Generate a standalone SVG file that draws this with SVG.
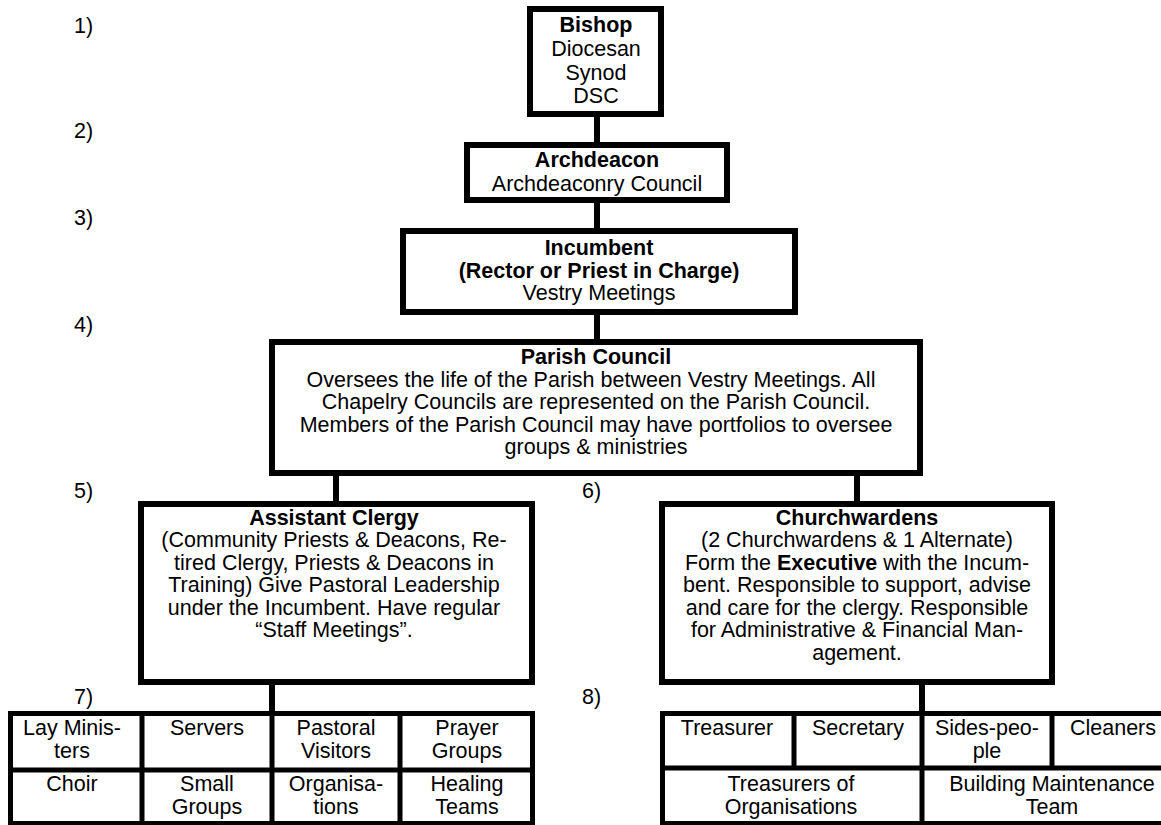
<svg xmlns="http://www.w3.org/2000/svg" width="1161" height="825" viewBox="0 0 1161 825">
<style>
.t{font-family:"Liberation Sans",Arial,sans-serif;font-size:21.5px;fill:#000;text-anchor:middle}
.l{font-family:"Liberation Sans",Arial,sans-serif;font-size:21.5px;fill:#000}
.b{font-weight:bold}
.box{fill:#fff;stroke:#000;stroke-width:6}
.tbl{fill:#fff;stroke:#000;stroke-width:5}
.conn line{stroke:#000;stroke-width:6}
.div line{stroke:#000;stroke-width:5}
</style>
<rect width="1161" height="825" fill="#fff"/>
<g id="connectors" class="conn">
<line x1="597" y1="114" x2="597" y2="145"/>
<line x1="597" y1="200" x2="597" y2="231"/>
<line x1="597" y1="312" x2="597" y2="342"/>
<line x1="336" y1="473" x2="336" y2="504"/>
<line x1="857" y1="473" x2="857" y2="504"/>
<line x1="272" y1="682" x2="272" y2="713"/>
<line x1="922" y1="682" x2="922" y2="713"/>
</g>
<g id="labels">
<text class="l" x="74" y="33">1)</text>
<text class="l" x="74" y="138">2)</text>
<text class="l" x="74" y="225">3)</text>
<text class="l" x="74" y="332">4)</text>
<text class="l" x="74" y="498">5)</text>
<text class="l" x="582" y="498">6)</text>
<text class="l" x="74" y="704">7)</text>
<text class="l" x="582" y="704">8)</text>
</g>
<g id="bishop">
<rect class="box" x="530" y="9" width="131" height="105"/>
<text class="t b" x="596" y="32">Bishop</text>
<text class="t" x="596" y="56">Diocesan</text>
<text class="t" x="596" y="80">Synod</text>
<text class="t" x="596" y="103">DSC</text>
</g>
<g id="archdeacon">
<rect class="box" x="467" y="145" width="260" height="55"/>
<text class="t b" x="597" y="167">Archdeacon</text>
<text class="t" x="597" y="191">Archdeaconry Council</text>
</g>
<g id="incumbent">
<rect class="box" x="403" y="231" width="392" height="81"/>
<text class="t b" x="599" y="255">Incumbent</text>
<text class="t b" x="599" y="278">(Rector or Priest in Charge)</text>
<text class="t" x="599" y="300">Vestry Meetings</text>
</g>
<g id="parish-council">
<rect class="box" x="272" y="342" width="648" height="131"/>
<text class="t b" x="596" y="364">Parish Council</text>
<text class="t" x="591" y="386.5">Oversees the life of the Parish between Vestry Meetings. All</text>
<text class="t" x="596" y="409">Chapelry Councils are represented on the Parish Council.</text>
<text class="t" x="596" y="431.5">Members of the Parish Council may have portfolios to oversee</text>
<text class="t" x="596" y="454">groups &amp; ministries</text>
</g>
<g id="assistant-clergy">
<rect class="box" x="141" y="504" width="391" height="178"/>
<text class="t b" x="334" y="525">Assistant Clergy</text>
<text class="t" x="334" y="547">(Community Priests &amp; Deacons, Re-</text>
<text class="t" x="334" y="569.5">tired Clergy, Priests &amp; Deacons in</text>
<text class="t" x="334" y="592">Training) Give Pastoral Leadership</text>
<text class="t" x="334" y="614.5">under the Incumbent. Have regular</text>
<text class="t" x="334" y="637">“Staff Meetings”.</text>
</g>
<g id="churchwardens">
<rect class="box" x="662" y="504" width="390" height="178"/>
<text class="t b" x="857" y="525">Churchwardens</text>
<text class="t" x="857" y="547">(2 Churchwardens &amp; 1 Alternate)</text>
<text class="t" x="857" y="569.5">Form the <tspan class="b">Executive</tspan> with the Incum-</text>
<text class="t" x="857" y="592">bent. Responsible to support, advise</text>
<text class="t" x="857" y="614.5">and care for the clergy. Responsible</text>
<text class="t" x="857" y="637">for Administrative &amp; Financial Man-</text>
<text class="t" x="857" y="659.5">agement.</text>
</g>
<g id="ministries-table">
<rect class="tbl" x="10.5" y="713.5" width="522" height="110"/>
<g class="div">
<line x1="8" y1="770" x2="535" y2="770"/>
<line x1="142" y1="711" x2="142" y2="825"/>
<line x1="272" y1="711" x2="272" y2="825"/>
<line x1="400" y1="711" x2="400" y2="825"/>
</g>
<text class="t" x="72" y="735">Lay Minis-</text>
<text class="t" x="72" y="758">ters</text>
<text class="t" x="207" y="735">Servers</text>
<text class="t" x="336" y="735">Pastoral</text>
<text class="t" x="336" y="758">Visitors</text>
<text class="t" x="467" y="735">Prayer</text>
<text class="t" x="467" y="758">Groups</text>
<text class="t" x="72" y="791">Choir</text>
<text class="t" x="207" y="791">Small</text>
<text class="t" x="207" y="814">Groups</text>
<text class="t" x="336" y="791">Organisa-</text>
<text class="t" x="336" y="814">tions</text>
<text class="t" x="467" y="791">Healing</text>
<text class="t" x="467" y="814">Teams</text>
</g>
<g id="administration-table">
<rect class="tbl" x="662.5" y="713.5" width="520" height="110"/>
<g class="div">
<line x1="660" y1="768" x2="1185" y2="768"/>
<line x1="794" y1="711" x2="794" y2="768"/>
<line x1="922" y1="711" x2="922" y2="825"/>
<line x1="1052" y1="711" x2="1052" y2="768"/>
</g>
<text class="t" x="727" y="735">Treasurer</text>
<text class="t" x="858" y="735">Secretary</text>
<text class="t" x="987" y="735">Sides-peo-</text>
<text class="t" x="987" y="758">ple</text>
<text class="t" x="1113" y="735">Cleaners</text>
<text class="t" x="791" y="791">Treasurers of</text>
<text class="t" x="791" y="814">Organisations</text>
<text class="t" x="1052" y="791">Building Maintenance</text>
<text class="t" x="1052" y="814">Team</text>
</g>
</svg>
